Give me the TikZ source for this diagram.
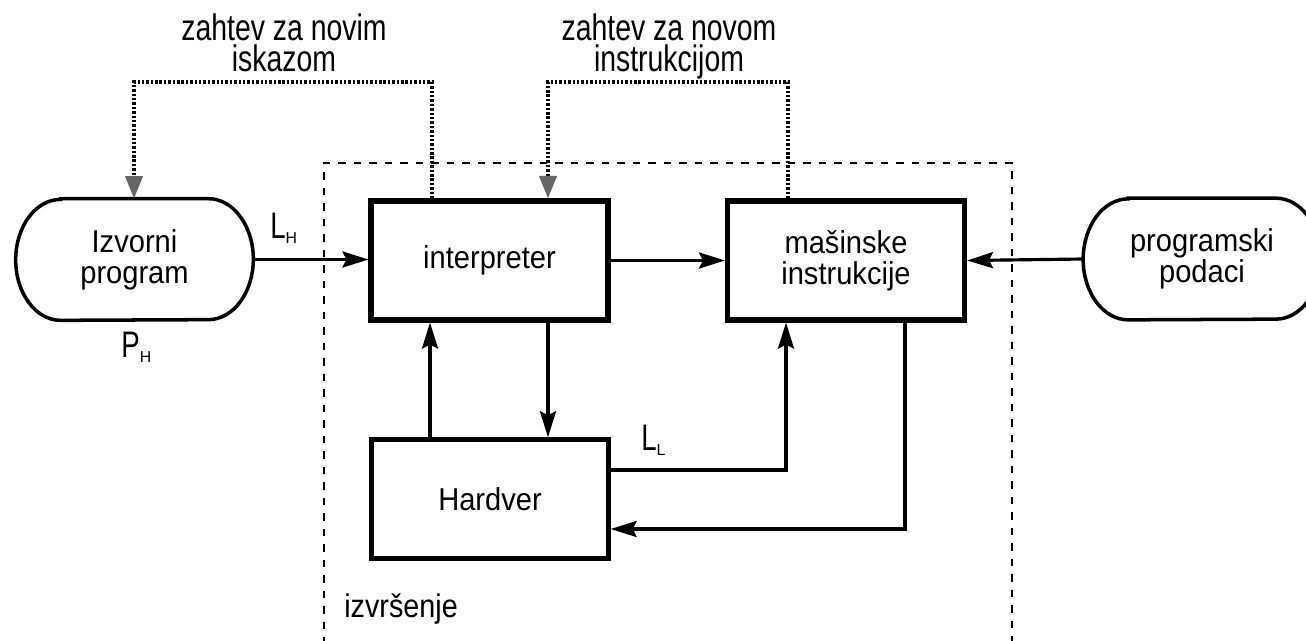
\documentclass[tikz,border=0pt]{standalone}
\usepackage{fontspec}
\setmainfont{Liberation Sans}
\newfontfamily\nodefont[FakeStretch=0.92]{Liberation Sans}
\newfontfamily\reqfont[FakeStretch=0.77]{Liberation Sans}
\newfontfamily\symfont[FakeStretch=0.75]{Liberation Sans}
\newfontfamily\execfont[FakeStretch=0.88]{Liberation Sans}
\usetikzlibrary{arrows.meta}

% a letter with a small subscript, as in L_H
\newcommand{\sym}[2]{{\symfont\fontsize{21}{21}\selectfont #1}\raisebox{-3.4pt}{\fontsize{9}{9}\selectfont #2}}

% outline of a terminal: flat top and bottom, elliptic ends
\newcommand{\termoutline}[1]{%
  \draw[termline] ([xshift=0.9cm]#1.north west) -- ([xshift=-0.9cm]#1.north east)
    arc[start angle=90, end angle=-90, x radius=0.9cm, y radius=1.21cm]
    -- ([xshift=0.9cm]#1.south west)
    arc[start angle=270, end angle=90, x radius=0.9cm, y radius=1.21cm] -- cycle;}

\begin{document}
\begin{tikzpicture}[x=0.02cm, y=-0.02cm,
  txt/.style={font={\nodefont\fontsize{18}{17.5}\selectfont\lineskiplimit=-20pt}},
  box/.style={txt, draw, line width=2.9pt, minimum width=4.74cm, minimum height=2.38cm,
    inner sep=0pt, align=center},
  term/.style={txt, minimum width=4.74cm, minimum height=2.42cm, inner sep=0pt, align=center},
  termline/.style={line width=2pt},
  arr/.style={line width=1.8pt, -{Stealth[length=0.52cm, width=0.32cm, inset=0.08cm]}},
  req/.style={line width=2.2pt, dash pattern=on 1.4pt off 1.1pt, black,
    -{Triangle[length=0.45cm, width=0.34cm, color=black!60]}},
  reqlabel/.style={inner sep=0pt, align=center,
    font={\reqfont\fontsize{21}{18}\selectfont\lineskiplimit=-20pt}},
  exec/.style={line width=0.9pt, dash pattern=on 0.15cm off 0.16cm},
  sub/.style={inner sep=0pt, anchor=base west}]

\useasboundingbox (0,0) rectangle (1306,640);
\clip (0,0) rectangle (1306,640);

% execution area, open at the bottom
\draw[exec] (324,660) -- (324,163) -- (1012,163) -- (1012,660);

% blocks
\node[box] (interp) at (489.5,260.5) {interpreter};
\node[box] (mas) at (846,260.5) {mašinske\\instrukcije};
\node[box, line width=2.5pt] (hard) at (490,499) {Hardver};

% terminals
\node[term] (izv) at (134.5,259.5) {Izvorni\\program};
\termoutline{izv}
\node[term] (prog) at (1202,259) {programski\\podaci};
\termoutline{prog}

% labels
\node[reqlabel, anchor=north] (q1) at (284,13) {zahtev za novim\\iskazom};
\node[reqlabel, anchor=north] (q2) at (669,13) {zahtev za novom\\instrukcijom};
\node[sub] (lh) at (270,238) {\sym{L}{H}};
\node[sub] (ph) at (121,357) {\sym{P}{H}};
\node[sub] (ll) at (641,450) {\sym{L}{L}};
\node[sub] (ex) at (344,617) {\execfont\fontsize{18.6}{18}\selectfont izvršenje};

% bend points
\coordinate (dn) at (548,0);
\coordinate (up) at (430,0);
\coordinate (ll1) at (786,470);
\coordinate (rr1) at (905,529);
\coordinate (t1) at (432,82);
\coordinate (t2) at (134,82);
\coordinate (t3) at (788,82);
\coordinate (t4) at (548,82);

% data flow
\draw[arr] (izv.east) -- (izv.east -| interp.west);
\draw[arr] (interp.east) -- (mas.west);
\draw[arr] (prog.west) -- (mas.east);
\draw[arr] (interp.south -| dn) -- (hard.north -| dn);
\draw[arr] (hard.north -| up) -- (interp.south -| up);
\draw[arr] (hard.east |- ll1) -| (mas.south -| ll1);
\draw[arr] (mas.south -| rr1) |- (hard.east |- rr1);

% requests
\draw[req] (interp.north -| t1) -- (t1) -- (t2) -- (izv.north -| t2);
\draw[req] (mas.north -| t3) -- (t3) -- (t4) -- (interp.north -| t4);
\end{tikzpicture}
\end{document}
